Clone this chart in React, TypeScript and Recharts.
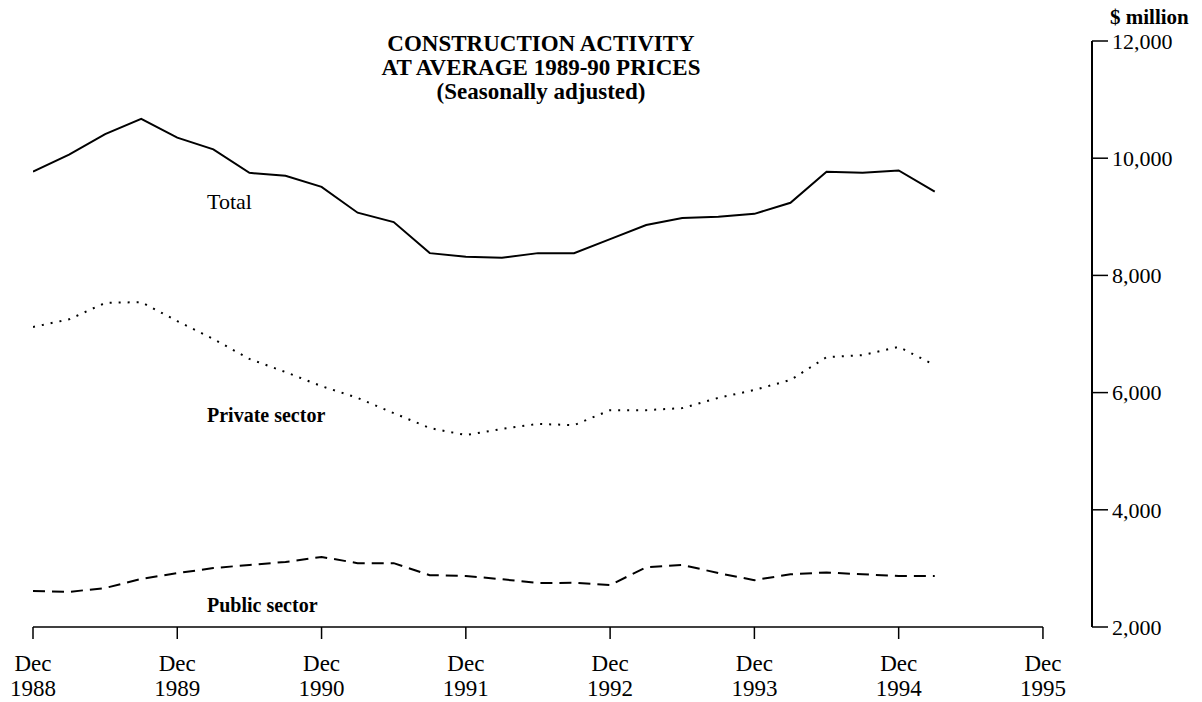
import React from "react";
import { LineChart, Line, XAxis, YAxis, ReferenceLine } from "recharts";

// quarterly, Dec 1988 .. Mar 1995
const quarters = [
  "Dec 1988", "Mar 1989", "Jun 1989", "Sep 1989", "Dec 1989", "Mar 1990", "Jun 1990",
  "Sep 1990", "Dec 1990", "Mar 1991", "Jun 1991", "Sep 1991", "Dec 1991", "Mar 1992",
  "Jun 1992", "Sep 1992", "Dec 1992", "Mar 1993", "Jun 1993", "Sep 1993", "Dec 1993",
  "Mar 1994", "Jun 1994", "Sep 1994", "Dec 1994", "Mar 1995",
];

const total = [
  9770, 10060, 10410, 10670, 10350, 10150, 9750, 9700, 9510, 9070, 8910, 8380, 8320,
  8300, 8380, 8380, 8620, 8860, 8980, 9000, 9050, 9240, 9770, 9750, 9790, 9430,
];

const privateSector = [
  7120, 7250, 7530, 7545, 7220, 6915, 6575, 6350, 6110, 5910, 5650, 5395, 5275,
  5380, 5465, 5445, 5700, 5700, 5735, 5910, 6045, 6215, 6605, 6640, 6780, 6470,
];

const publicSector = [
  2615, 2600, 2665, 2820, 2920, 3005, 3060, 3110, 3195, 3090, 3090, 2885, 2870,
  2815, 2750, 2755, 2715, 3020, 3060, 2920, 2800, 2900, 2930, 2900, 2870, 2870,
];

const xTicks = [0, 4, 8, 12, 16, 20, 24, 28];
const xTickYears = ["1988", "1989", "1990", "1991", "1992", "1993", "1994", "1995"];
const yTicks = [2000, 4000, 6000, 8000, 10000, 12000];

const data = quarters.map((q, i) => ({
  q: i,
  label: q,
  total: total[i],
  privateSector: privateSector[i],
  publicSector: publicSector[i],
}));

const FONT = "'Liberation Serif', 'Times New Roman', serif";

function DecTick({ x, y, payload }: any) {
  const idx = xTicks.indexOf(payload.value);
  return (
    <text x={x} y={y} textAnchor="middle" fontFamily={FONT} fontSize={23} fill="#000">
      <tspan x={x} dy={30}>Dec</tspan>
      <tspan x={x} dy={25}>{xTickYears[idx]}</tspan>
    </text>
  );
}

const textStyle: React.CSSProperties = {
  position: "absolute",
  fontFamily: FONT,
  color: "#000",
  lineHeight: 1,
  whiteSpace: "nowrap",
};

export default function App() {
  return (
    <div style={{ position: "absolute", left: 0, top: 0, width: 1202, height: 702, background: "#fff" }}>
      <LineChart
        width={1202}
        height={702}
        data={data}
        margin={{ top: 41, right: 10, bottom: 10, left: 33 }}
      >
        <XAxis
          dataKey="q"
          type="number"
          domain={[0, 29.36]}
          ticks={xTicks}
          interval={0}
          axisLine={false}
          tickLine={{ stroke: "#000", strokeWidth: 1.5 }}
          tickSize={12}
          height={65}
          tick={<DecTick />}
          allowDataOverflow
        />
        <YAxis
          orientation="right"
          domain={[2000, 12000]}
          ticks={yTicks}
          interval={0}
          width={100}
          axisLine={{ stroke: "#000", strokeWidth: 2 }}
          tickLine={{ stroke: "#000", strokeWidth: 1.5 }}
          tickSize={16}
          tickMargin={4}
          tickFormatter={(v) => v.toLocaleString("en-US")}
          tick={{ fontFamily: FONT, fontSize: 22, fill: "#000" }}
        />
        <ReferenceLine
          segment={[{ x: 0, y: 2000 }, { x: 28, y: 2000 }]}
          stroke="#000"
          strokeWidth={1.5}
          ifOverflow="visible"
        />
        <Line
          type="linear"
          dataKey="total"
          stroke="#000"
          strokeWidth={2}
          dot={false}
          isAnimationActive={false}
        />
        <Line
          type="linear"
          dataKey="privateSector"
          stroke="#000"
          strokeWidth={2}
          strokeDasharray="2 7"
          dot={false}
          isAnimationActive={false}
        />
        <Line
          type="linear"
          dataKey="publicSector"
          stroke="#000"
          strokeWidth={2}
          strokeDasharray="12 7"
          dot={false}
          isAnimationActive={false}
        />
      </LineChart>

      <div style={{ ...textStyle, left: 291, width: 500, top: 32, textAlign: "center", fontWeight: "bold", fontSize: 23, lineHeight: "24px" }}>
        CONSTRUCTION ACTIVITY
        <br />
        AT AVERAGE 1989-90 PRICES
        <br />
        (Seasonally adjusted)
      </div>
      <div style={{ ...textStyle, left: 1110, top: 7, fontWeight: "bold", fontSize: 21 }}>$ million</div>
      <div style={{ ...textStyle, left: 207, top: 191, fontSize: 22 }}>Total</div>
      <div style={{ ...textStyle, left: 207, top: 405, fontSize: 20, fontWeight: "bold" }}>Private sector</div>
      <div style={{ ...textStyle, left: 207, top: 595, fontSize: 20, fontWeight: "bold" }}>Public sector</div>
    </div>
  );
}
